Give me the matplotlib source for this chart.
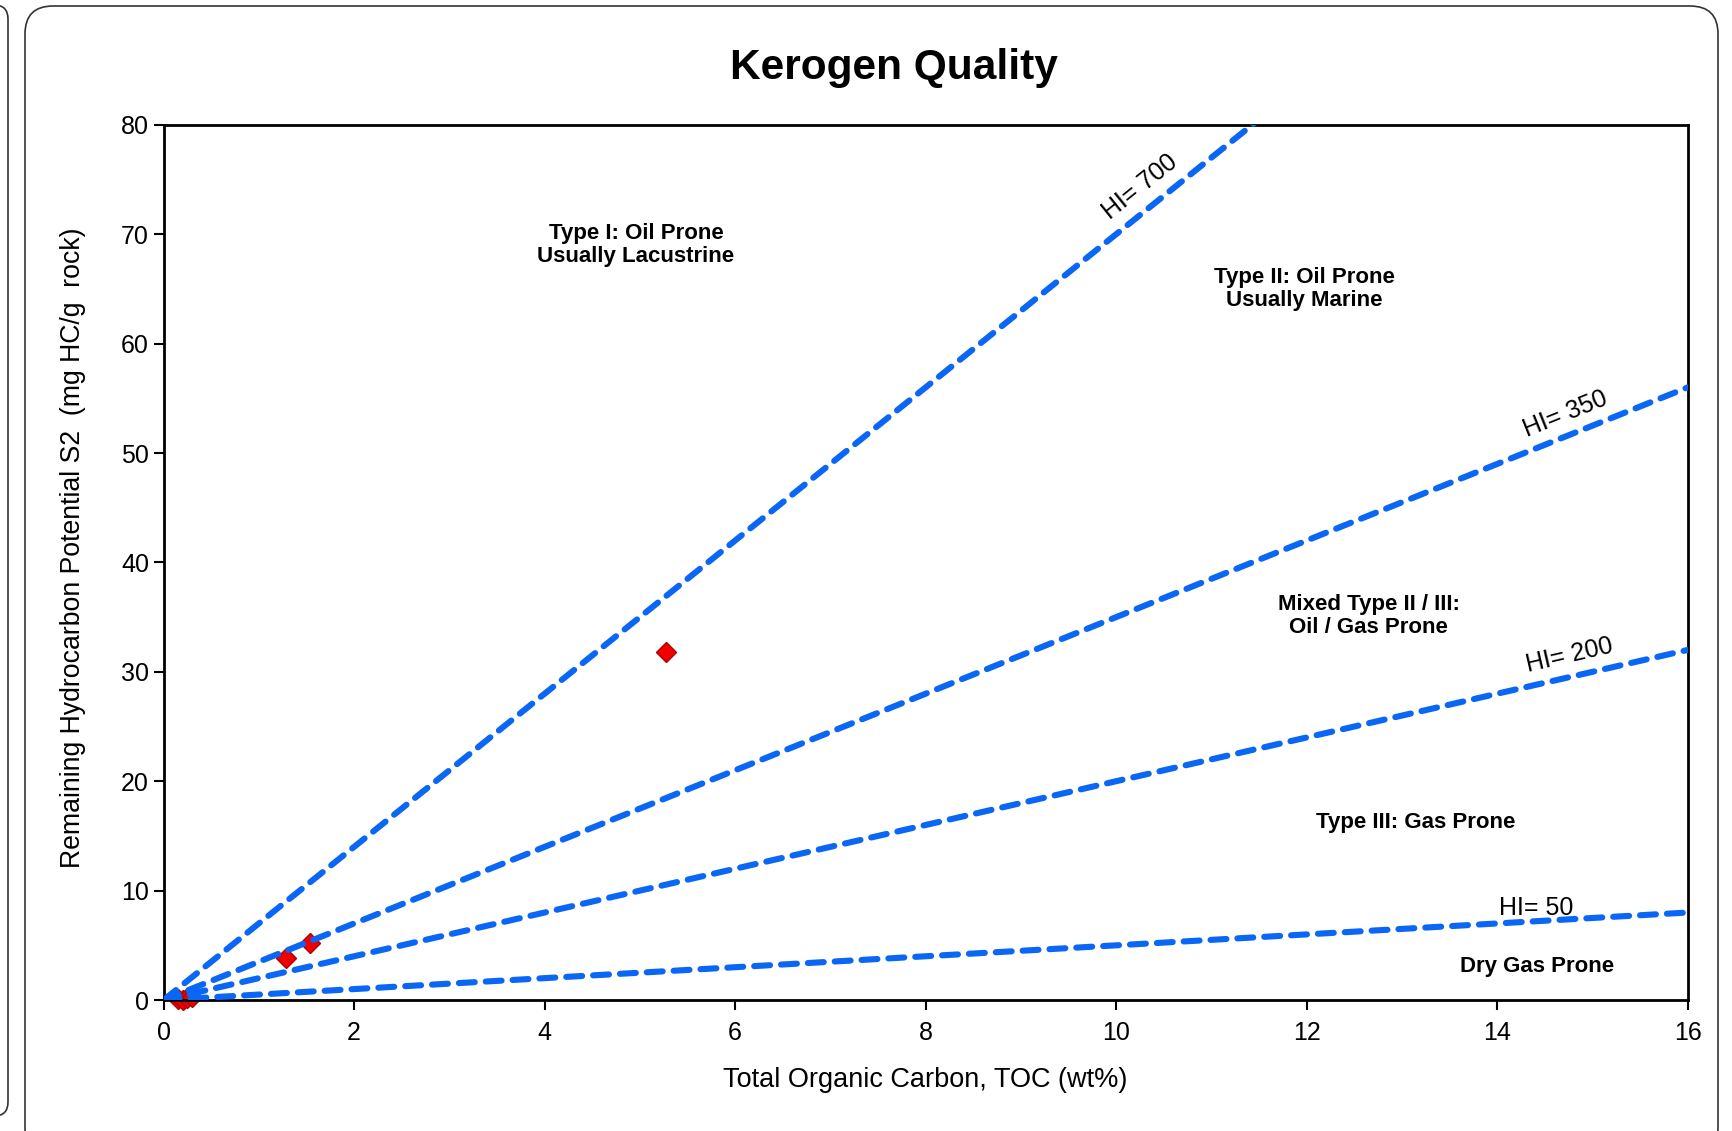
import numpy as np
import matplotlib
matplotlib.use('Agg')
import matplotlib.pyplot as plt
from matplotlib.patches import FancyBboxPatch
from matplotlib.transforms import IdentityTransform

plt.rcParams['font.family'] = ['Liberation Sans', 'DejaVu Sans']

# Datos
hi_values = [700, 350, 200, 50]
hi_labels = ['HI= 700', 'HI= 350', 'HI= 200', 'HI= 50']
toc = [5.27, 1.29, 1.54, 0.15, 0.2, 0.25, 0.3]
s2 = [31.8, 3.8, 5.2, 0.05, 0.0, 0.15, 0.3]

zones = ['Type I: Oil Prone\nUsually Lacustrine',
         'Type II: Oil Prone\nUsually Marine',
         'Mixed Type II / III:\nOil / Gas Prone',
         'Type III: Gas Prone',
         'Dry Gas Prone']

fig = plt.figure(figsize=(17.33, 11.31), dpi=100)
ax = fig.add_axes([0.0944, 0.1158, 0.8794, 0.7738])

# Marcos redondeados
fig.add_artist(FancyBboxPatch((25, -25), 1693, 1150, boxstyle='round,pad=0,rounding_size=28',
                              transform=IdentityTransform(), fill=False, lw=1.2, ec='#333333'))
fig.add_artist(FancyBboxPatch((-40, 15), 48, 1111, boxstyle='round,pad=0,rounding_size=14',
                              transform=IdentityTransform(), fill=False, lw=1.2, ec='#333333'))

# Lineas HI
x = np.array([0, 16])
for hi in hi_values:
    ax.plot(x, hi * x / 100, color='#0a66f5', lw=4.4, linestyle=(0, (2.6, 1.8)),
            dash_capstyle='round', zorder=3)

# Puntos
ax.plot(toc, s2, 'D', color='#ee0000', mec='#b00000', ms=10, zorder=2, clip_on=False)

# Etiquetas HI
label_pos = [(10.25, 74.3), (14.72, 53.6), (14.76, 31.5), (14.41, 8.4)]
for hi, lab, (px, py) in zip(hi_values, hi_labels, label_pos):
    ang = np.degrees(np.arctan(hi / 100)) if hi > 50 else 0
    ax.text(px, py, lab, rotation=ang, transform_rotates_text=True, rotation_mode='anchor',
            ha='center', va='center', fontsize=18)

# Zonas
zone_pos = [(4.96, 69.0), (11.98, 65.0), (12.65, 35.1), (13.15, 16.2), (14.42, 3.1)]
for z, (px, py) in zip(zones, zone_pos):
    ax.text(px, py, z, ha='center', va='center', fontsize=16, fontweight='bold',
            linespacing=1.1)

ax.set_xlim(0, 16)
ax.set_ylim(0, 80)
ax.set_xticks(range(0, 17, 2))
ax.set_yticks(range(0, 81, 10))
ax.tick_params(labelsize=18, width=1.5, length=7, direction='out')
ax.tick_params(axis='x', pad=8)
for sp in ax.spines.values():
    sp.set_linewidth(2)

ax.set_xlabel('Total Organic Carbon, TOC (wt%)', fontsize=19.5, labelpad=16)
ax.set_ylabel('Remaining Hydrocarbon Potential S2  (mg HC/g  rock)', fontsize=19.2)
ax.yaxis.set_label_coords(-0.051, 0.517)
fig.text(0.516, 0.94, 'Kerogen Quality', ha='center', va='center', fontsize=30.5,
         fontweight='bold')

fig.savefig('out.png', dpi=100)
